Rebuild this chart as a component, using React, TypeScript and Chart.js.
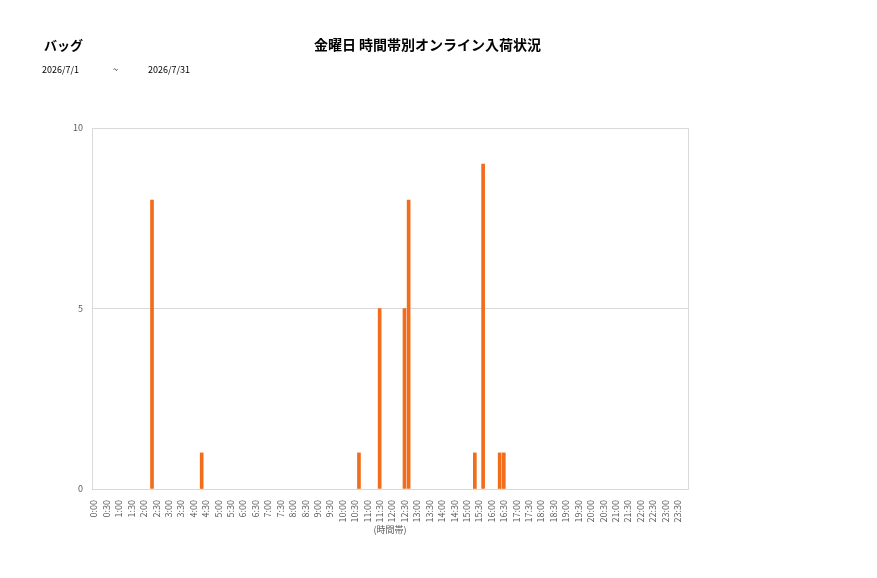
import React, { useRef, useEffect } from 'react';
import { Chart, registerables } from 'chart.js';

Chart.register(...registerables);

// 30分刻みの目盛りラベル
const tickLabels = [
  '0:00', '0:30', '1:00', '1:30', '2:00', '2:30', '3:00', '3:30',
  '4:00', '4:30', '5:00', '5:30', '6:00', '6:30', '7:00', '7:30',
  '8:00', '8:30', '9:00', '9:30', '10:00', '10:30', '11:00', '11:30',
  '12:00', '12:30', '13:00', '13:30', '14:00', '14:30', '15:00', '15:30',
  '16:00', '16:30', '17:00', '17:30', '18:00', '18:30', '19:00', '19:30',
  '20:00', '20:30', '21:00', '21:30', '22:00', '22:30', '23:00', '23:30',
];

// 10分刻みの入荷数 (1行 = 1時間: :00 :10 :20 :30 :40 :50)
const arrivals = [
  0, 0, 0, 0, 0, 0, // 0時
  0, 0, 0, 0, 0, 0, // 1時
  0, 0, 8, 0, 0, 0, // 2時
  0, 0, 0, 0, 0, 0, // 3時
  0, 0, 1, 0, 0, 0, // 4時
  0, 0, 0, 0, 0, 0, // 5時
  0, 0, 0, 0, 0, 0, // 6時
  0, 0, 0, 0, 0, 0, // 7時
  0, 0, 0, 0, 0, 0, // 8時
  0, 0, 0, 0, 0, 0, // 9時
  0, 0, 0, 0, 1, 0, // 10時
  0, 0, 0, 5, 0, 0, // 11時
  0, 0, 0, 5, 8, 0, // 12時
  0, 0, 0, 0, 0, 0, // 13時
  0, 0, 0, 0, 0, 0, // 14時
  0, 0, 1, 0, 9, 0, // 15時
  0, 0, 1, 1, 0, 0, // 16時
  0, 0, 0, 0, 0, 0, // 17時
  0, 0, 0, 0, 0, 0, // 18時
  0, 0, 0, 0, 0, 0, // 19時
  0, 0, 0, 0, 0, 0, // 20時
  0, 0, 0, 0, 0, 0, // 21時
  0, 0, 0, 0, 0, 0, // 22時
  0, 0, 0, 0, 0, 0, // 23時
];

const slots = arrivals.map((_, i) => `${Math.floor(i / 6)}:${String((i % 6) * 10).padStart(2, '0')}`);

const FONT = "'Noto Sans CJK JP', 'Noto Sans', sans-serif";
const BAR = '#f26d1b';

// プロット領域の枠線
const frame = {
  id: 'frame',
  afterDraw(chart: Chart) {
    const { ctx, chartArea } = chart;
    ctx.save();
    ctx.strokeStyle = '#d9d9d9';
    ctx.lineWidth = 1;
    ctx.strokeRect(
      Math.round(chartArea.left) + 0.5,
      Math.round(chartArea.top) + 0.5,
      Math.round(chartArea.right - chartArea.left),
      Math.round(chartArea.bottom - chartArea.top)
    );
    ctx.restore();
  },
};

const App: React.FC = () => {
  const chartRef = useRef<HTMLCanvasElement | null>(null);

  useEffect(() => {
    if (!chartRef.current) return;
    const chart = new Chart(chartRef.current, {
      type: 'bar',
      data: {
        labels: slots,
        datasets: [
          {
            label: '入荷数',
            data: arrivals,
            // 0件の枠は描かない
            backgroundColor: (c: any) => (c.raw ? BAR : 'rgba(0,0,0,0)'),
            barThickness: 3,
          },
        ],
      },
      options: {
        animation: false,
        responsive: false,
        layout: { padding: { left: 0, top: 128, right: 189, bottom: 39 } },
        plugins: {
          legend: { display: false },
          tooltip: { enabled: false },
        },
        scales: {
          x: {
            grid: { display: false },
            border: { color: '#d9d9d9' },
            ticks: {
              autoSkip: false,
              maxRotation: 90,
              minRotation: 90,
              padding: 3,
              color: '#595959',
              font: { family: FONT, size: 9 },
              callback: (_v, i) => (i % 3 === 0 ? tickLabels[i / 3] : ''),
            },
            title: {
              display: true,
              text: '(時間帯)',
              color: '#595959',
              font: { family: FONT, size: 9 },
              padding: { top: 0, bottom: 4 },
            },
            afterFit: (axis) => {
              axis.height = 50;
            },
          },
          y: {
            min: 0,
            max: 10,
            grid: { color: '#d9d9d9', drawTicks: false },
            border: { display: false },
            ticks: {
              stepSize: 5,
              padding: 9,
              color: '#595959',
              font: { family: FONT, size: 9 },
            },
            afterFit: (axis) => {
              axis.width = 92;
            },
          },
        },
      },
      plugins: [frame],
    });
    return () => chart.destroy();
  }, []);

  const small: React.CSSProperties = { position: 'absolute', top: 63, fontSize: 9, color: '#000' };

  return (
    <div style={{ position: 'fixed', left: 0, top: 0, width: 877, height: 578, background: '#fff', fontFamily: FONT }}>
      <canvas ref={chartRef} width={877} height={578} style={{ position: 'absolute', left: 0, top: 0 }} />
      <div style={{ position: 'absolute', left: 44, top: 35, fontSize: 13, fontWeight: 'bold' }}>バッグ</div>
      <div style={{ position: 'absolute', left: 0, width: 855, top: 34, textAlign: 'center', fontSize: 14, fontWeight: 'bold' }}>
        金曜日 時間帯別オンライン入荷状況
      </div>
      <div style={{ ...small, left: 42 }}>2026/7/1</div>
      <div style={{ ...small, left: 113 }}>~</div>
      <div style={{ ...small, left: 148 }}>2026/7/31</div>
    </div>
  );
};

export default App;
